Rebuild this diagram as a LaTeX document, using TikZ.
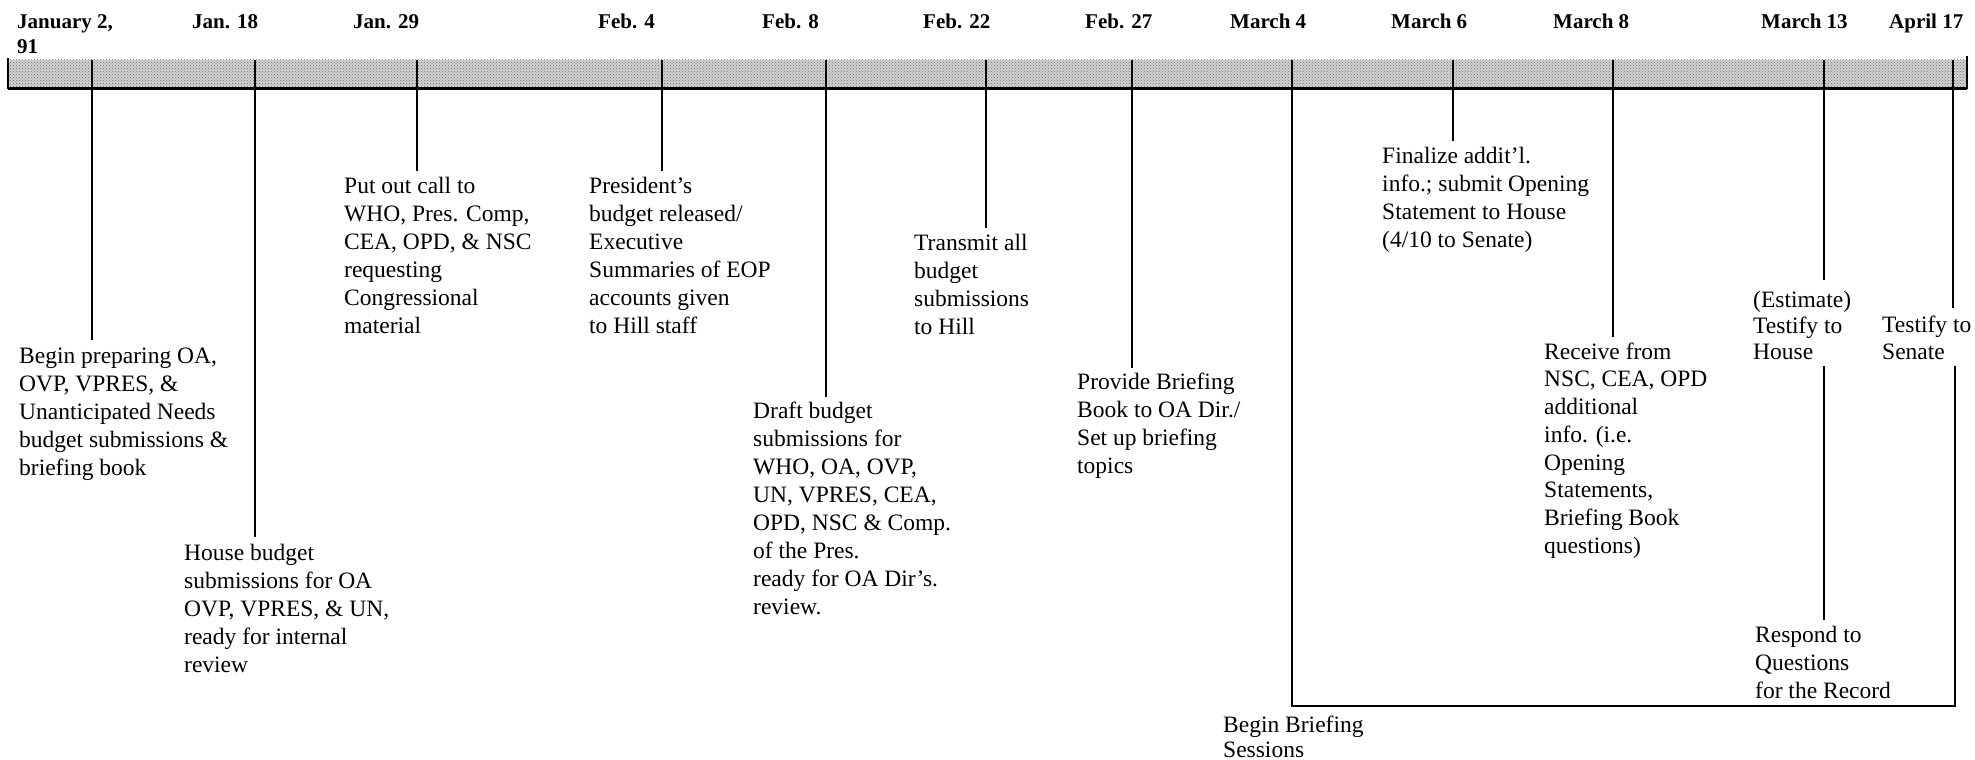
\documentclass[tikz,border=0pt]{standalone}
\usepackage{fontspec}
\setmainfont{Liberation Serif}
\usetikzlibrary{patterns}
\newcommand\tlstrut{\rule{0pt}{18pt}}
\newcommand\hdstrut{\rule{0pt}{16pt}}
\begin{document}
\begin{tikzpicture}[x=1pt,y=-1pt,
  evt/.style={anchor=north west,inner sep=0pt,align=left,font=\fontsize{23.5}{28}\selectfont},
  hdr/.style={anchor=north west,inner sep=0pt,align=left,font=\bfseries\fontsize{21}{25}\selectfont},
  tickline/.style={line width=1.6pt},
  ]
\useasboundingbox (0,0) rectangle (1975,760);
% bar
\fill[black!18] (8,60) rectangle (1967,88);
\fill[pattern=crosshatch dots,pattern color=black!55] (8,60) rectangle (1967,88);
\draw[line width=3pt] (8,88) -- (1967,88);
\draw[tickline] (8,58) -- (8,89);
\draw[tickline] (1967,56) -- (1967,89);
% tick coordinates
\coordinate (tJanA) at (92,60);
\coordinate (tJanB) at (255,60);
\coordinate (tJanC) at (417,60);
\coordinate (tFebA) at (662,60);
\coordinate (tFebB) at (826,60);
\coordinate (tFebC) at (986,60);
\coordinate (tFebD) at (1132,60);
\coordinate (tMarA) at (1292,60);
\coordinate (tMarB) at (1453,60);
\coordinate (tMarC) at (1613,60);
\coordinate (tMarD) at (1824,60);
\coordinate (tAprA) at (1953,60);
% headers
\node[hdr] (hJanA) at (17,12) {\hdstrut January 2,\\91};
\node[hdr] (hJanB) at (192,12) {\hdstrut Jan. 18};
\node[hdr] (hJanC) at (353,12) {\hdstrut Jan. 29};
\node[hdr] (hFebA) at (598,12) {\hdstrut Feb. 4};
\node[hdr] (hFebB) at (762,12) {\hdstrut Feb. 8};
\node[hdr] (hFebC) at (923,12) {\hdstrut Feb. 22};
\node[hdr] (hFebD) at (1085,12) {\hdstrut Feb. 27};
\node[hdr] (hMarA) at (1230,12) {\hdstrut March 4};
\node[hdr] (hMarB) at (1391,12) {\hdstrut March 6};
\node[hdr] (hMarC) at (1553,12) {\hdstrut March 8};
\node[hdr] (hMarD) at (1761,12) {\hdstrut March 13};
\node[hdr] (hAprA) at (1889,12) {\hdstrut April 17};
% event texts
\node[evt] (eJanA) at (19,345) {\tlstrut Begin preparing OA,\\OVP, VPRES, \&\\Unanticipated Needs\\budget submissions \&\\briefing book};
\node[evt] (eJanB) at (184,542) {\tlstrut House budget\\submissions for OA\\OVP, VPRES, \& UN,\\ready for internal\\review};
\node[evt] (eJanC) at (344,175) {\tlstrut Put out call to\\WHO, Pres. Comp,\\CEA, OPD, \& NSC\\requesting\\Congressional\\material};
\node[evt] (eFebA) at (589,175) {\tlstrut President’s\\budget released/\\Executive\\Summaries of EOP\\accounts given\\to Hill staff};
\node[evt] (eFebB) at (753,400) {\tlstrut Draft budget\\submissions for\\WHO, OA, OVP,\\UN, VPRES, CEA,\\OPD, NSC \& Comp.\\of the Pres.\\ready for OA Dir’s.\\review.};
\node[evt] (eFebC) at (914,232) {\tlstrut Transmit all\\budget\\submissions\\to Hill};
\node[evt] (eFebD) at (1077,371) {\tlstrut Provide Briefing\\Book to OA Dir./\\Set up briefing\\topics};
\node[evt,font=\fontsize{23.5}{25}\selectfont] (eMarA) at (1223,714) {\tlstrut Begin Briefing\\Sessions};
\node[evt] (eMarB) at (1382,145) {\tlstrut Finalize addit’l.\\info.; submit Opening\\Statement to House\\(4/10 to Senate)};
\node[evt,font=\fontsize{23.5}{27.7}\selectfont] (eMarC) at (1544,341) {\tlstrut Receive from\\NSC, CEA, OPD\\additional\\info. (i.e.\\Opening\\Statements,\\Briefing Book\\questions)};
\node[evt,font=\fontsize{23.5}{26}\selectfont] (eMarD) at (1753,289) {\tlstrut (Estimate)\\Testify to\\House};
\node[evt,font=\fontsize{23.5}{27}\selectfont] (eAprA) at (1882,314) {\tlstrut Testify to\\Senate};
\node[evt] (eResp) at (1755,624) {\tlstrut Respond to\\Questions\\for the Record};
% connectors
\draw[tickline,shorten >=5pt] (tJanA) -- (tJanA |- eJanA.north);
\draw[tickline,shorten >=5pt] (tJanB) -- (tJanB |- eJanB.north);
\draw[tickline,shorten >=4pt] (tJanC) -- (tJanC |- eJanC.north);
\draw[tickline,shorten >=4pt] (tFebA) -- (tFebA |- eFebA.north);
\draw[tickline,shorten >=3pt] (tFebB) -- (tFebB |- eFebB.north);
\draw[tickline,shorten >=4pt] (tFebC) -- (tFebC |- eFebC.north);
\draw[tickline,shorten >=3pt] (tFebD) -- (tFebD |- eFebD.north);
\draw[tickline,shorten >=4pt] (tMarB) -- (tMarB |- eMarB.north);
\draw[tickline,shorten >=4pt] (tMarC) -- (tMarC |- eMarC.north);
\draw[tickline,shorten >=9pt] (tMarD) -- (tMarD |- eMarD.north);
\draw[tickline,shorten >=6pt] (tAprA) -- (tAprA |- eAprA.north);
\draw[tickline,shorten <=6pt,shorten >=4pt] (tMarD |- eMarD.south) -- (tMarD |- eResp.north);
\coordinate (brA) at (1292,706);
\coordinate (brB) at (1955,706);
\draw[tickline,shorten >=6pt] (tMarA) -- (brA) -- (brB) -- (brB |- eAprA.south);
\end{tikzpicture}
\end{document}
